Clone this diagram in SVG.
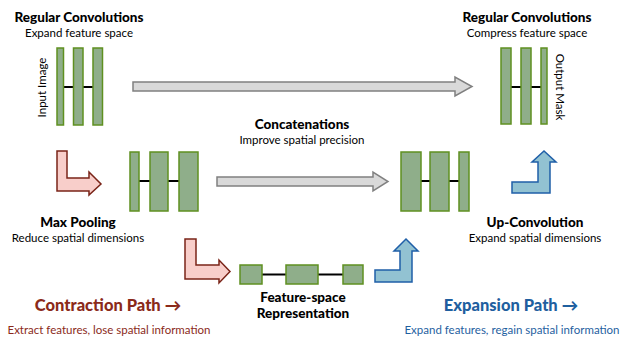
<svg xmlns="http://www.w3.org/2000/svg" width="621" height="339" viewBox="0 0 621 339">
<style>
  .bar { fill: #8FAE8A; stroke: #5F9020; stroke-width: 1.5; }
  .link { stroke: #000; stroke-width: 2; }
  .gray { fill: #D9D9D9; stroke: #808080; stroke-width: 1.5; }
  .pink { fill: #F8CECA; stroke: #7A2418; stroke-width: 1.5; }
  .blue { fill: #92C2D2; stroke: #1F5FA8; stroke-width: 1.5; }
  text { font-family: Lato, "Open Sans", sans-serif; fill: #000; text-anchor: middle; }
  .h { font-weight: 900; font-size: 13.5px; }
  .s { font-size: 11.5px; }
  .side { font-size: 11.5px; }
  .ph { font-weight: 900; font-size: 16.5px; }
  .ps { font-size: 11.5px; }
</style>
<rect width="621" height="339" fill="#fff"/>

<g id="connectors">
  <polygon class="gray" points="133,82 455,82 455,77 472,86.5 455,96 455,91 133,91"/>
  <polygon class="gray" points="217,177 373,177 373,172 388,181.5 373,191 373,186 217,186"/>
  <polygon id="maxpool-arrow" class="pink" points="57,151 67,151 67,178 89,178 89,172 101,184 89,195 89,191 57,191"/>
  <polygon id="maxpool-arrow-2" class="pink" points="185,239 196,239 196,265 219,265 219,260 230,271.5 219,283 219,279 185,279"/>
  <polygon id="upconv-arrow" class="blue" points="375,270 400,270 400,251 394,251 406,239 418,251 412,251 412,282 375,282"/>
  <polygon id="upconv-arrow-2" class="blue" points="512,182 538,182 538,162 532,162 544,151 556,162 550,162 550,193 512,193"/>
</g>

<g id="input-block">
  <line class="link" x1="63" y1="87" x2="73" y2="87"/>
  <line class="link" x1="83" y1="87" x2="93" y2="87"/>
  <rect class="bar" x="57" y="48" width="6.5" height="77"/>
  <rect class="bar" x="73.5" y="48" width="9.5" height="77"/>
  <rect class="bar" x="93" y="48" width="9.5" height="77"/>
  <text class="side" transform="translate(46,87.5) rotate(-90)">Input Image</text>
</g>

<g id="output-block">
  <line class="link" x1="511" y1="87" x2="521" y2="87"/>
  <line class="link" x1="531" y1="87" x2="541" y2="87"/>
  <rect class="bar" x="501" y="48" width="10" height="76"/>
  <rect class="bar" x="521" y="48" width="10" height="76"/>
  <rect class="bar" x="541" y="48" width="6" height="76"/>
  <text class="side" transform="translate(556,87) rotate(90)">Output Mask</text>
</g>

<g id="mid-left-block">
  <line class="link" x1="139" y1="181" x2="150" y2="181"/>
  <line class="link" x1="168" y1="181" x2="179" y2="181"/>
  <rect class="bar" x="130" y="152" width="9" height="59"/>
  <rect class="bar" x="150" y="152" width="18" height="59"/>
  <rect class="bar" x="179" y="152" width="19" height="59"/>
</g>

<g id="mid-right-block">
  <line class="link" x1="421" y1="181" x2="430" y2="181"/>
  <line class="link" x1="449" y1="181" x2="459" y2="181"/>
  <rect class="bar" x="401" y="152" width="20" height="59"/>
  <rect class="bar" x="430" y="152" width="19" height="59"/>
  <rect class="bar" x="459" y="152" width="10" height="59"/>
</g>

<g id="bottleneck-block">
  <line class="link" x1="262" y1="274.5" x2="286" y2="274.5"/>
  <line class="link" x1="318" y1="274.5" x2="343" y2="274.5"/>
  <rect class="bar" x="240" y="265" width="22" height="19"/>
  <rect class="bar" x="286" y="265" width="32" height="19"/>
  <rect class="bar" x="343" y="265" width="20" height="19"/>
</g>

<g id="label-reg-conv-left">
  <text class="h" x="79" y="22">Regular Convolutions</text>
  <text class="s" x="79" y="37">Expand feature space</text>
</g>
<g id="label-reg-conv-right">
  <text class="h" x="527" y="22">Regular Convolutions</text>
  <text class="s" x="527" y="37">Compress feature space</text>
</g>
<g id="label-concat">
  <text class="h" x="302" y="129">Concatenations</text>
  <text class="s" x="302" y="144">Improve spatial precision</text>
</g>
<g id="label-maxpool">
  <text class="h" x="78" y="227">Max Pooling</text>
  <text class="s" x="78" y="242">Reduce spatial dimensions</text>
</g>
<g id="label-upconv">
  <text class="h" x="535" y="227">Up-Convolution</text>
  <text class="s" x="535" y="242">Expand spatial dimensions</text>
</g>
<g id="label-feature-space">
  <text class="h" x="303" y="302">Feature-space</text>
  <text class="h" x="303" y="318">Representation</text>
</g>
<g id="label-contraction">
  <text class="ph" x="108" y="311" style="fill:#8B2A1A">Contraction Path →</text>
  <text class="ps" x="109" y="334" style="fill:#8B2A1A">Extract features, lose spatial information</text>
</g>
<g id="label-expansion">
  <text class="ph" x="511" y="311" style="fill:#1F5F9F">Expansion Path →</text>
  <text class="ps" x="512" y="334" style="fill:#1F5F9F">Expand features, regain spatial information</text>
</g>
</svg>
